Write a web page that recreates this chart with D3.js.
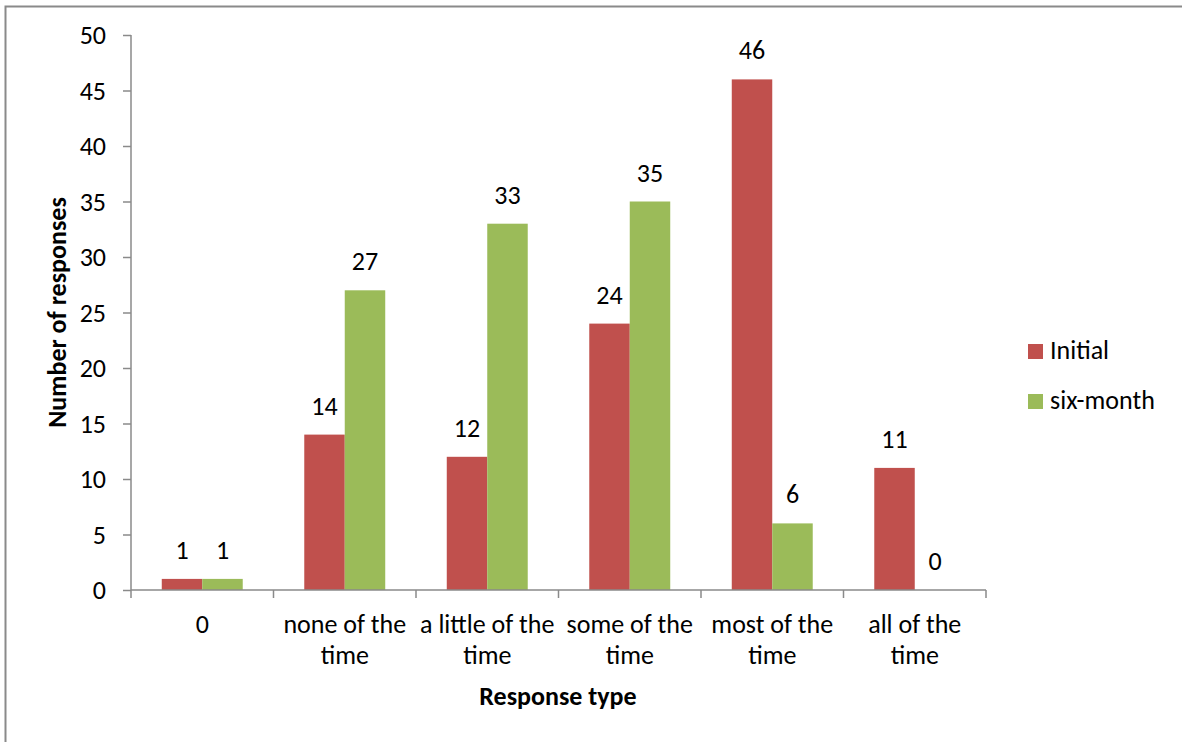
<!DOCTYPE html>
<html>
<head>
<meta charset="utf-8">
<script src="https://cdn.jsdelivr.net/npm/d3@7"></script>
<style>
  html, body { margin: 0; padding: 0; background: #fff; }
  svg { display: block; font-family: Carlito, Calibri, "Open Sans", sans-serif; }
</style>
</head>
<body>
<svg id="chart" width="1182" height="742"></svg>
<script>
// Response counts per category, at the first survey and at six months
const categories = ["0", "none of the time", "a little of the time", "some of the time", "most of the time", "all of the time"];
const categoryLines = [["0"], ["none of the", "time"], ["a little of the", "time"], ["some of the", "time"], ["most of the", "time"], ["all of the", "time"]];
const seriesNames = ["Initial", "six-month"];
const initialValues = [1, 14, 12, 24, 46, 11];
const sixMonthValues = [1, 27, 33, 35, 6, 0];
const yTicks = [0, 5, 10, 15, 20, 25, 30, 35, 40, 45, 50];
const colors = ["#C0504D", "#9BBB59"];

const svg = d3.select("#chart");
const plotLeft = 131, plotRight = 986, plotTop = 35, plotBottom = 590;
const fontSize = 26;

// Outer chart frame (left and top edges fall inside the page)
svg.append("rect")
  .attr("x", 5.5).attr("y", 6.5)
  .attr("width", 1200).attr("height", 800)
  .attr("fill", "none").attr("stroke", "#8a8a8a").attr("stroke-width", 2);

const x = d3.scaleBand().domain(categories).range([plotLeft, plotRight]).paddingInner(0).paddingOuter(0);
const y = d3.scaleLinear().domain([0, 50]).range([plotBottom, plotTop]);
const inner = d3.scaleBand().domain(seriesNames).range([0, x.bandwidth()]).paddingInner(0).paddingOuter(0.76);

const series = [initialValues, sixMonthValues];

// Bars
const groups = svg.append("g").selectAll("g")
  .data(categories).join("g")
  .attr("transform", d => `translate(${x(d)},0)`);

groups.selectAll("rect")
  .data((d, i) => seriesNames.map((s, k) => ({ s, v: series[k][i], k })))
  .join("rect")
  .attr("x", d => inner(d.s))
  .attr("width", inner.bandwidth())
  .attr("y", d => y(d.v))
  .attr("height", d => y(0) - y(d.v))
  .attr("fill", d => colors[d.k]);

// Value labels
groups.selectAll("text.val")
  .data((d, i) => seriesNames.map((s, k) => ({ s, v: series[k][i], k })))
  .join("text")
  .attr("class", "val")
  .attr("x", d => inner(d.s) + inner.bandwidth() / 2)
  .attr("y", d => y(d.v) - 20)
  .attr("text-anchor", "middle")
  .attr("font-size", fontSize)
  .attr("fill", "#000")
  .text(d => d.v);

// Y axis
const yAxis = svg.append("g")
  .attr("transform", `translate(${plotLeft},0)`)
  .call(d3.axisLeft(y).tickValues(yTicks).tickSize(8).tickPadding(17));
yAxis.attr("font-family", null).attr("font-size", fontSize);
yAxis.select(".domain").attr("stroke", "#8a8a8a").attr("stroke-width", 1.5).attr("d", `M0,${plotTop}V${plotBottom}`);
yAxis.selectAll(".tick line").attr("stroke", "#8a8a8a").attr("stroke-width", 1.5);
yAxis.selectAll(".tick text").attr("fill", "#000").attr("dy", "0.34em");

// X axis with category boundary ticks
const xAxisG = svg.append("g").attr("transform", `translate(0,${plotBottom})`);
xAxisG.append("line")
  .attr("x1", plotLeft).attr("x2", plotRight)
  .attr("stroke", "#8a8a8a").attr("stroke-width", 1.5);
const boundaries = categories.map(c => x(c)).concat([x(categories[categories.length - 1]) + x.bandwidth()]);
xAxisG.selectAll("line.tick")
  .data(boundaries).join("line")
  .attr("class", "tick")
  .attr("x1", d => d).attr("x2", d => d)
  .attr("y1", 0).attr("y2", 8)
  .attr("stroke", "#8a8a8a").attr("stroke-width", 1.5);

// Category labels (wrapped onto two lines)
categories.forEach((c, i) => {
  const t = svg.append("text")
    .attr("x", x(c) + x.bandwidth() / 2)
    .attr("y", 633)
    .attr("text-anchor", "middle")
    .attr("font-size", fontSize)
    .attr("fill", "#000");
  categoryLines[i].forEach((line, j) => {
    t.append("tspan").attr("x", x(c) + x.bandwidth() / 2).attr("dy", j === 0 ? 0 : 31).text(line);
  });
});

// Axis titles
svg.append("text")
  .attr("x", 558).attr("y", 705)
  .attr("text-anchor", "middle")
  .attr("font-size", fontSize).attr("font-weight", "bold")
  .text("Response type");

svg.append("text")
  .attr("transform", `translate(66,${(plotTop + plotBottom) / 2}) rotate(-90)`)
  .attr("text-anchor", "middle")
  .attr("font-size", fontSize).attr("font-weight", "bold")
  .text("Number of responses");

// Legend
const legend = svg.append("g");
seriesNames.forEach((s, k) => {
  const ly = 344 + k * 50;
  legend.append("rect")
    .attr("x", 1028).attr("y", ly)
    .attr("width", 15).attr("height", 15)
    .attr("fill", colors[k]);
  legend.append("text")
    .attr("x", 1050).attr("y", ly + 15)
    .attr("font-size", fontSize).attr("fill", "#000")
    .text(s);
});
</script>
</body>
</html>
